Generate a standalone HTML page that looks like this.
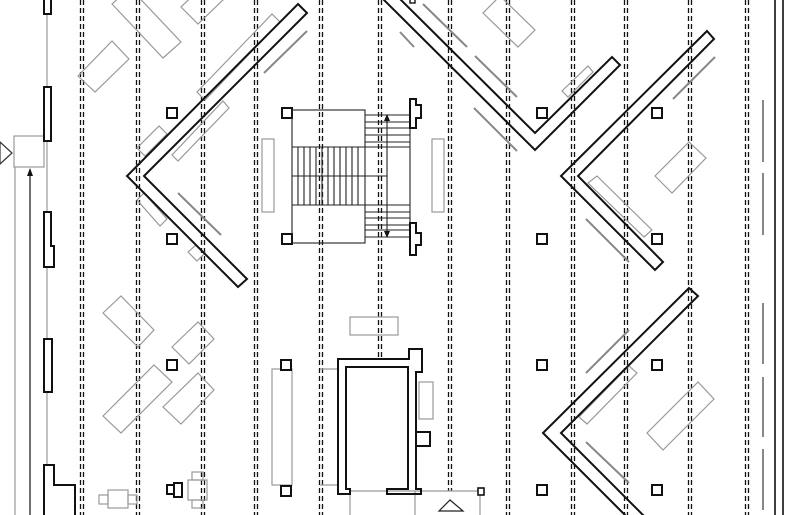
<!DOCTYPE html>
<html><head><meta charset="utf-8"><style>
html,body{margin:0;padding:0;background:#fff;}
svg{display:block;}
</style></head><body>
<svg width="786" height="515" viewBox="0 0 786 515" xmlns="http://www.w3.org/2000/svg">
<rect width="786" height="515" fill="#fff"/>
<g stroke="#111" stroke-width="1.3" stroke-dasharray="5,3" fill="none">
<path d="M80.5 0V515M83.5 0V515"/>
<path d="M136.5 0V515M139.5 0V515"/>
<path d="M201.5 0V515M204.5 0V515"/>
<path d="M254.5 0V515M257.5 0V515"/>
<path d="M319.5 0V515M322.5 0V515"/>
<path d="M378.5 0V359M381.5 0V359"/>
<path d="M448.5 0V491M451.5 0V491"/>
<path d="M506.5 0V515M509.5 0V515"/>
<path d="M571.5 0V515M574.5 0V515"/>
<path d="M624.5 0V515M627.5 0V515"/>
<path d="M688.5 0V515M691.5 0V515"/>
<path d="M745.5 0V515M748.5 0V515"/>
</g>
<g stroke="#111" stroke-width="1.6"><path d="M775 0V515M783 0V515"/></g>
<g stroke="#888" stroke-width="2" fill="none">
<path d="M763 100V162M763 173V235M763 303V364M763 377V437M763 449V510"/>
<path d="M264 73L307 31M178 193L221 235M423 4L467 47M400 32L414 47M475 56L517 97M474 108L517 151M673 99L715 57M586 219L629 262M586 373L629 330M586 442L629 483"/>
</g>
<g stroke="#999" stroke-width="1.2" fill="none">
<polygon points="112,4 163,58 181,42 130,-12"/>
<polygon points="78,76 95,92 129,59 112,41"/>
<polygon points="181,7 198,24 225,-2 208,-19"/>
<polygon points="197,92 205,100 280,22 272,14"/>
<polygon points="137,148 145,156 167,134 159,126"/>
<polygon points="172,155 178,161 229,108 223,101"/>
<polygon points="137,200 160,226 167,219 144,193"/>
<polygon points="188,252 197,261 205,253 196,245"/>
<polygon points="483,13 518,47 535,30 500,-4"/>
<polygon points="562,91 568,97 593,72 588,66"/>
<polygon points="655,176 672,193 706,158 689,142"/>
<polygon points="588,183 597,176 652,230 644,237"/>
<polygon points="579,417 587,424 637,373 629,366"/>
<polygon points="647,433 663,450 714,399 698,382"/>
<polygon points="103,313 121,296 154,330 138,347"/>
<polygon points="103,416 154,365 172,382 121,433"/>
<polygon points="172,347 198,322 214,339 189,364"/>
<polygon points="163,407 198,373 214,390 181,424"/>
<rect x="262" y="139" width="12" height="73"/>
<rect x="432" y="139" width="12" height="73"/>
<rect x="350" y="317" width="48" height="18"/>
<rect x="272" y="369" width="20" height="116"/>
<path d="M320 369H338M320 485H338"/>
<rect x="419" y="382" width="14" height="37"/>
<path d="M350 491H480M350 491V515M415 491V515M480 491V515"/>
<rect x="108" y="490" width="20" height="18"/>
<rect x="99" y="495" width="9" height="9"/>
<rect x="128" y="495" width="9" height="9"/>
<rect x="188" y="480" width="19" height="20"/>
<rect x="192" y="472" width="11" height="8"/>
<rect x="192" y="500" width="11" height="8"/>
<rect x="14" y="136" width="30" height="31"/>
<path d="M15 167V515M47 0V515"/>
</g>
<polygon points="0,142 12,153 0,164" fill="none" stroke="#333" stroke-width="1.2"/>
<path d="M30 175V515" stroke="#111" stroke-width="1.2"/>
<polygon points="30,168 27,176 33,176" fill="#111"/>
<g stroke="#111" stroke-width="2" fill="#fff">
<rect x="44" y="-2" width="7" height="16"/>
<rect x="44" y="87" width="7" height="54"/>
<polygon points="44,212 51,212 51,246 54,246 54,267 44,267"/>
<rect x="44" y="339" width="8" height="53"/>
<polygon points="44,517 44,465 54,465 54,485 75,485 75,517"/>
</g>
<g stroke="#111" stroke-width="2" fill="none" stroke-linejoin="miter">
<polygon points="298,4 307,13 144,176 247,279 238,287 127,176"/>
<polyline points="383,-1 535,150 620,65 612,57 535,133 400,-1"/>
<polygon points="707,31 714,39 578,176 663,262 655,270 561,176"/>
<polyline points="627,517 543,433 689,288 698,296 561,433 645,517"/>
</g>
<g stroke="#111" stroke-width="2" fill="#fff">
<rect x="167" y="108" width="10" height="10"/>
<rect x="167" y="234" width="10" height="10"/>
<rect x="282" y="108" width="10" height="10"/>
<rect x="282" y="234" width="10" height="10"/>
<rect x="537" y="108" width="10" height="10"/>
<rect x="652" y="108" width="10" height="10"/>
<rect x="537" y="234" width="10" height="10"/>
<rect x="652" y="234" width="10" height="10"/>
<rect x="537" y="360" width="10" height="10"/>
<rect x="652" y="360" width="10" height="10"/>
<rect x="537" y="485" width="10" height="10"/>
<rect x="652" y="485" width="10" height="10"/>
<rect x="167" y="360" width="10" height="10"/>
<rect x="281" y="360" width="10" height="10"/>
<rect x="281" y="486" width="10" height="10"/>
<rect x="167" y="485" width="9" height="9"/>
<rect x="174" y="483" width="8" height="14"/>
<rect x="478" y="488" width="6" height="7" stroke-width="1.6"/>
<rect x="410" y="-3" width="5" height="6" stroke-width="1.4"/>
</g>
<g stroke="#222" stroke-width="1.1" fill="none">
<rect x="292" y="110" width="73" height="133"/>
<path d="M292 147H410M292 176H387M292 205H410"/>
<path d="M298 147V205M304 147V205M310 147V205M316 147V205M322 147V205M328 147V205M334 147V205M340 147V205M346 147V205M352 147V205M358 147V205"/>
<path d="M365 115H410M365 122H410M365 128H410M365 135H410M365 142H410"/>
<path d="M365 212H410M365 218H410M365 225H410M365 230H410M365 237H410"/>
<path d="M410 115V237"/>
<path d="M387 120V232"/>
</g>
<polygon points="387,114 384,121 390,121" fill="#111"/>
<polygon points="387,238 384,231 390,231" fill="#111"/>
<g stroke="#111" stroke-width="2" fill="#fff">
<polygon points="410,99 416,99 416,105 421,105 421,118 416,118 416,128 410,128"/>
<polygon points="410,223 416,223 416,233 421,233 421,245 416,245 416,255 410,255"/>
</g>
<g stroke="#111" stroke-width="2" fill="none">
<polygon points="338,359 409,359 409,349 422,349 422,372 416,372 416,489 421,489 421,494 387,494 387,489 408,489 408,367 346,367 346,489 350,489 350,494 338,494"/>
<rect x="416" y="432" width="14" height="14" fill="#fff"/>
</g>
<polygon points="439,511 450,500 463,511" fill="none" stroke="#222" stroke-width="1.2"/>
</svg>
</body></html>
